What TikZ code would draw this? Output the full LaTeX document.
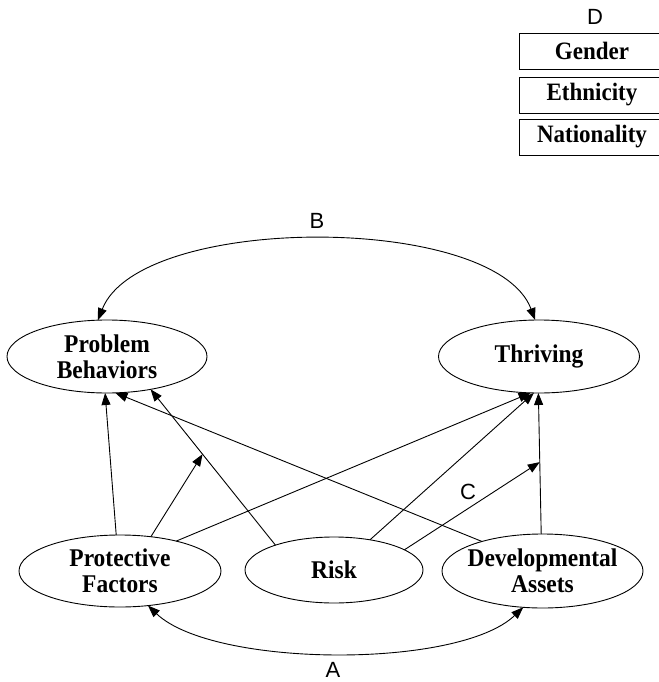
\documentclass[tikz,border=0pt]{standalone}
\usepackage{fontspec}
\setmainfont{Liberation Serif}
\newfontfamily\ellfont[FakeStretch=0.92]{Liberation Serif}
\newfontfamily\labfont{Liberation Sans}
\usetikzlibrary{shapes.geometric,arrows.meta}
\begin{document}
\begin{tikzpicture}[x=1pt,y=-1pt,
  ell/.style={ellipse,draw,line width=0.9pt,inner sep=0pt,outer sep=0pt},
  txt/.style={font=\ellfont\bfseries\fontsize{25.5}{26}\selectfont,align=center,inner sep=0pt},
  lab/.style={font=\labfont\fontsize{22}{22}\selectfont,inner sep=0pt},
  boxst/.style={draw,line width=0.9pt,minimum width=146pt,minimum height=36pt,inner sep=0pt,outer sep=0pt,anchor=west,font=\ellfont\bfseries\fontsize{25}{26}\selectfont},
  arr/.style={line width=0.9pt,-{Triangle[length=12pt,width=9pt]}},
  darr/.style={line width=0.9pt,{Triangle[length=12pt,width=9pt]}-{Triangle[length=12pt,width=9pt]}}]
\useasboundingbox (0,0) rectangle (658,682);

% moderator boxes
\node[lab] (dl) at (595,17) {D};
\node[boxst] (gen) at (519,51) {Gender};
\node[boxst] (eth) at (519,95) {Ethnicity};
\node[boxst] (nat) at (519,137) {Nationality};

% outcome ellipses
\node[ell,minimum width=200pt,minimum height=73pt] (pb) at (107,356.5) {};
\node[txt] (pbt) at (pb) {Problem\\Behaviors};
\node[ell,minimum width=201pt,minimum height=73pt] (th) at (539,356.5) {};
\node[txt] (tht) at (th) {Thriving};

% predictor ellipses
\node[ell,minimum width=202pt,minimum height=72pt] (pf) at (120,571) {};
\node[txt] (pft) at (pf) {Protective\\Factors};
\node[ell,minimum width=178pt,minimum height=66pt] (rk) at (334,570) {};
\node[txt] (rkt) at (rk) {Risk};
\node[ell,minimum width=201pt,minimum height=74pt] (da) at (542.5,571) {};
\node[txt] (dat) at (da) {Developmental\\Assets};

% labels
\node[lab] (bl) at (317,221) {B};
\node[lab] (al) at (333,670) {A};
\node[lab] (cl) at (468,492) {C};

% paths
\draw[arr] (pf.96) -- (pb.-93);
\draw[arr] (rk.157) -- coordinate[pos=0.584] (m1) (pb.-37);
\draw[arr] (pf.48) -- (m1);
\draw[arr] (pf.28.5) -- (th.-103);
\draw[arr] (da.154.4) -- (pb.-77);
\draw[arr] (rk.40) -- (th.-98);
\draw[arr] (da.92.3) -- coordinate[pos=0.51] (m2) (th.-91.5);
\draw[arr] (rk.16.7) -- (m2);

% correlations
\draw[darr] (pb.104) .. controls +(42,-107) and +(-40,-107) .. (th.96);
\draw[darr] (pf.-51) .. controls +(65,62) and +(-65,62) .. (da.-118);
\end{tikzpicture}
\end{document}
